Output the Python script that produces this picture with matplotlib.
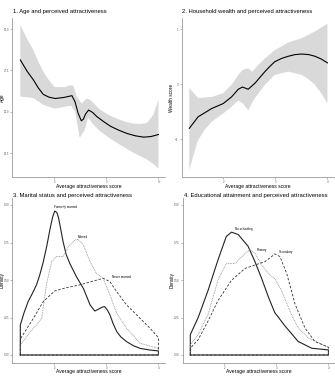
import matplotlib
matplotlib.use('Agg')
import matplotlib.pyplot as plt

plt.rcParams['font.family'] = ['Liberation Sans', 'DejaVu Sans']

# panel 1: age vs attractiveness (smooth + CI band)
age_x = [1.35, 1.48, 1.60, 1.70, 1.79, 1.90, 2.02, 2.18, 2.34, 2.40, 2.46, 2.52, 2.56, 2.60, 2.66, 2.74, 2.82, 2.95, 3.08, 3.24, 3.40, 3.56, 3.72, 3.86, 4.0]
age_y = [28.13, 27.45, 26.93, 26.42, 26.05, 25.88, 25.8, 25.86, 25.97, 25.6, 24.9, 24.45, 24.55, 24.85, 25.1, 24.95, 24.7, 24.4, 24.12, 23.88, 23.68, 23.54, 23.46, 23.5, 23.62]
age_hi_x = [1.35, 1.48, 1.60, 1.70, 1.79, 1.90, 2.01, 2.21, 2.30, 2.37, 2.43, 2.53, 2.62, 2.69, 2.88, 3.04, 3.20, 3.36, 3.52, 3.66, 3.78, 3.90, 4.0]
age_hi_y = [30.24, 29.4, 28.74, 28.0, 27.43, 26.9, 26.49, 26.49, 26.6, 26.57, 25.92, 25.5, 25.8, 25.73, 25.12, 24.82, 24.58, 24.4, 24.28, 24.26, 24.32, 24.8, 25.73]
age_lo_x = [1.35, 1.60, 1.79, 2.01, 2.24, 2.33, 2.40, 2.49, 2.59, 2.65, 2.76, 2.88, 3.04, 3.20, 3.36, 3.52, 3.66, 3.78, 3.90, 4.0]
age_lo_y = [25.92, 25.83, 25.42, 25.18, 25.32, 25.36, 25.02, 23.42, 23.92, 24.64, 24.2, 23.82, 23.45, 23.12, 22.82, 22.52, 22.3, 22.11, 21.85, 21.55]

# panel 2: wealth vs attractiveness
wealth_x = [1.35, 1.52, 1.78, 2.0, 2.16, 2.29, 2.37, 2.48, 2.61, 2.70, 2.80, 2.90, 2.99, 3.12, 3.25, 3.38, 3.51, 3.64, 3.76, 3.88, 4.0]
wealth_y = [-0.80, -0.59, -0.44, -0.35, -0.23, -0.09, -0.05, -0.09, 0.02, 0.12, 0.23, 0.33, 0.41, 0.47, 0.51, 0.54, 0.55, 0.54, 0.51, 0.46, 0.39]
wealth_hi_x = [1.35, 1.52, 1.78, 2.0, 2.16, 2.29, 2.37, 2.48, 2.56, 2.67, 2.80, 2.99, 3.25, 3.51, 3.76, 4.0]
wealth_hi_y = [-0.07, -0.25, -0.23, -0.16, -0.01, 0.17, 0.26, 0.29, 0.23, 0.35, 0.47, 0.62, 0.76, 0.84, 0.96, 1.10]
wealth_lo_x = [1.35, 1.44, 1.52, 1.65, 1.78, 2.0, 2.16, 2.29, 2.38, 2.48, 2.58, 2.80, 2.99, 3.25, 3.51, 3.64, 3.76, 3.88, 4.0]
wealth_lo_y = [-1.56, -1.25, -1.01, -0.82, -0.68, -0.53, -0.41, -0.29, -0.35, -0.47, -0.29, -0.01, 0.17, 0.23, 0.17, 0.09, -0.01, -0.16, -0.35]

# panel 3: marital status densities
formerly_x = [1.35, 1.42, 1.50, 1.58, 1.66, 1.72, 1.79, 1.86, 1.92, 1.97, 2.01, 2.05, 2.08, 2.12, 2.17, 2.23, 2.30, 2.43, 2.56, 2.69, 2.78, 2.88, 2.93, 2.97, 3.02, 3.07, 3.13, 3.20, 3.28, 3.39, 3.52, 3.65, 3.82, 4.0]
formerly_y = [0.20, 0.28, 0.356, 0.41, 0.467, 0.53, 0.62, 0.73, 0.84, 0.92, 0.96, 0.95, 0.92, 0.85, 0.756, 0.67, 0.61, 0.52, 0.444, 0.333, 0.293, 0.311, 0.32, 0.322, 0.30, 0.267, 0.21, 0.156, 0.12, 0.089, 0.062, 0.044, 0.034, 0.027]
married_x = [1.35, 1.60, 1.76, 1.85, 1.95, 2.04, 2.17, 2.27, 2.40, 2.46, 2.56, 2.69, 2.81, 2.94, 3.07, 3.20, 3.39, 3.65, 4.0]
married_y = [0.067, 0.178, 0.244, 0.467, 0.622, 0.656, 0.656, 0.722, 0.767, 0.771, 0.733, 0.622, 0.544, 0.511, 0.4, 0.278, 0.178, 0.078, 0.044]
never_x = [1.35, 1.60, 1.79, 2.01, 2.24, 2.49, 2.75, 2.94, 3.07, 3.20, 3.39, 3.65, 3.84, 4.0]
never_y = [0.107, 0.244, 0.356, 0.427, 0.449, 0.467, 0.493, 0.511, 0.489, 0.422, 0.333, 0.244, 0.178, 0.116]

# panel 4: education densities
noschool_x = [1.35, 1.50, 1.69, 1.88, 2.04, 2.14, 2.27, 2.46, 2.59, 2.72, 2.85, 2.97, 3.17, 3.42, 3.68, 4.0]
noschool_y = [0.136, 0.249, 0.43, 0.633, 0.79, 0.819, 0.803, 0.724, 0.622, 0.509, 0.385, 0.283, 0.192, 0.09, 0.045, 0.034]
primary_x = [1.35, 1.50, 1.69, 1.88, 2.04, 2.21, 2.37, 2.49, 2.59, 2.72, 2.85, 2.97, 3.10, 3.29, 3.42, 3.62, 4.0]
primary_y = [0.068, 0.136, 0.27, 0.498, 0.611, 0.611, 0.667, 0.701, 0.679, 0.6, 0.543, 0.509, 0.43, 0.27, 0.18, 0.113, 0.05]
secondary_x = [1.35, 1.50, 1.69, 1.88, 2.14, 2.40, 2.59, 2.78, 2.91, 2.97, 3.07, 3.20, 3.36, 3.55, 3.74, 4.0]
secondary_y = [0.045, 0.102, 0.226, 0.362, 0.498, 0.577, 0.6, 0.622, 0.656, 0.674, 0.656, 0.543, 0.339, 0.18, 0.09, 0.052]

x_ticks = [2, 3, 4]
titles = ['1. Age and perceived attractiveness',
          '2. Household wealth and perceived attractiveness',
          '3. Marital status and perceived attractiveness',
          '4. Educational attainment and perceived attractiveness']
xlabel = 'Average attractiveness score'

W, H = 335.0, 376.0
XLIM = (1.2, 4.13)


def make_ax(fig, left, top, right, bottom, ylabel):
    ax = fig.add_axes([left / W, 1 - bottom / H, (right - left) / W, (bottom - top) / H])
    for s in ['top', 'right']:
        ax.spines[s].set_visible(False)
    for s in ['left', 'bottom']:
        ax.spines[s].set_color('#9a9a9a')
        ax.spines[s].set_linewidth(0.6)
    ax.tick_params(colors='#9a9a9a', labelcolor='#555555', labelsize=2.0,
                   length=1.5, width=0.5, pad=0.8)
    ax.set_xlim(*XLIM)
    ax.set_xticks(x_ticks)
    fig.text((left + right) / 2 / W, 1 - (bottom + 9) / H, xlabel,
             fontsize=3.6, ha='center', va='center')
    fig.text((left - 10.3) / W, 1 - (top + bottom) / 2 / H, ylabel,
             fontsize=3.4, ha='center', va='center', rotation=90)
    return ax


def band(ax, hx, hy, lx, ly):
    ax.fill(list(hx) + list(lx)[::-1], list(hy) + list(ly)[::-1],
            color='#d9d9d9', lw=0)


def density(ax, xs, ys, **kw):
    px = [xs[0]] + list(xs) + [xs[-1], xs[0]]
    py = [0] + list(ys) + [0, 0]
    ax.plot(px, py, **kw)


fig = plt.figure(figsize=(3.35, 3.76), dpi=100)

ax1 = make_ax(fig, 12.5, 18, 165.2, 177, 'Age')
band(ax1, age_hi_x, age_hi_y, age_lo_x, age_lo_y)
ax1.plot(age_x, age_y, color='black', lw=0.8)
ax1.set_ylim(21.05, 30.67)
ax1.set_yticks([22.5, 25.0, 27.5, 30.0])
ax1.set_yticklabels(['22.5', '25.0', '27.5', '30.0'])

ax2 = make_ax(fig, 181.5, 18, 334.2, 177, 'Wealth score')
band(ax2, wealth_hi_x, wealth_hi_y, wealth_lo_x, wealth_lo_y)
ax2.plot(wealth_x, wealth_y, color='black', lw=0.8)
ax2.set_ylim(-1.685, 1.205)
ax2.set_yticks([-1, 0, 1])

ax3 = make_ax(fig, 12.5, 197.5, 165.2, 362.5, 'Density')
density(ax3, formerly_x, formerly_y, color='#222222', lw=0.8)
density(ax3, married_x, married_y, color='#8a8a8a', lw=0.6, ls=(0, (1, 1)))
density(ax3, never_x, never_y, color='#333333', lw=0.6, ls=(0, (3, 2)))
ax3.text(2.22, 0.985, 'Formerly married', fontsize=2.2, ha='center', va='center')
ax3.text(2.55, 0.785, 'Married', fontsize=2.2, ha='center', va='center')
ax3.text(3.30, 0.52, 'Never married', fontsize=2.2, ha='center', va='center')

ax4 = make_ax(fig, 182.5, 197.5, 335.2, 362.5, 'Density')
density(ax4, noschool_x, noschool_y, color='#222222', lw=0.8)
density(ax4, primary_x, primary_y, color='#8a8a8a', lw=0.6, ls=(0, (1, 1)))
density(ax4, secondary_x, secondary_y, color='#333333', lw=0.6, ls=(0, (3, 2)))
ax4.text(2.38, 0.84, 'No schooling', fontsize=2.2, ha='center', va='center')
ax4.text(2.72, 0.70, 'Primary', fontsize=2.2, ha='center', va='center')
ax4.text(3.19, 0.686, 'Secondary', fontsize=2.2, ha='center', va='center')

for ax in (ax3, ax4):
    ax.set_ylim(-0.05, 1.05)
    ax.set_yticks([0, 0.25, 0.5, 0.75, 1.0])
    ax.set_yticklabels(['0.00', '0.25', '0.50', '0.75', '1.00'])

fig.text(13 / W, 1 - 12 / H, titles[0], fontsize=4.2, va='center', ha='left')
fig.text(182 / W, 1 - 12 / H, titles[1], fontsize=4.2, va='center', ha='left')
fig.text(13 / W, 1 - 195.5 / H, titles[2], fontsize=4.2, va='center', ha='left')
fig.text(184 / W, 1 - 195.5 / H, titles[3], fontsize=4.2, va='center', ha='left')

fig.savefig('out.png', dpi=100, facecolor='white')
